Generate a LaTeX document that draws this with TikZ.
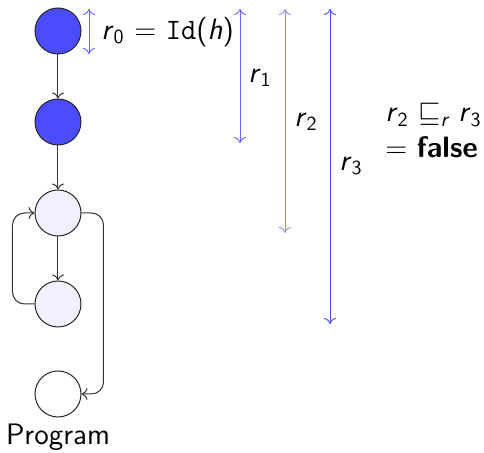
\documentclass[tikz,border=0pt]{standalone}
\usepackage{amsmath,amssymb}
\usetikzlibrary{arrows.meta,calc}
\renewcommand{\familydefault}{\sfdefault}
\newcommand{\vr}[1]{\textsl{r}$_{\mathsf{#1}}$}
\begin{document}
\begin{tikzpicture}[x=0.5pt,y=-0.5pt,
  font=\fontsize{14.8}{17}\selectfont\sffamily,
  st/.style={circle,draw=black!85,line width=0.5pt,minimum size=23pt,inner sep=0pt},
  hot/.style={st,fill=blue!70},
  cold/.style={st,fill=blue!6},
  flow/.style={draw=black!80,line width=0.5pt,-{To[length=3pt,width=6pt]}},
  rng/.style={line width=0.45pt,{To[length=3pt,width=6pt]}-{To[length=3pt,width=6pt]}},
  lab/.style={inner sep=0pt}]
\useasboundingbox (0,0) rectangle (484,453);
\node[hot] (a) at (58,31) {};
\node[hot] (b) at (58,122) {};
\node[cold] (c) at (58,213) {};
\node[cold] (d) at (58,304) {};
\node[st] (e) at (58,394) {};
\node[lab] (prog) at (58,437) {Program};
\draw[flow] (a.south) -- (b.north);
\draw[flow] (b.south) -- (c.north);
\draw[flow] (c.south) -- (d.north);
\draw[flow,rounded corners=6pt] (d.west) -- ++(-22,0) |- (c.west);
\draw[flow,rounded corners=6pt] (c.east) -- ++(22,0) |- (e.east);
\coordinate (t0) at (89,9);   \coordinate (b0) at (89,54);
\coordinate (t1) at (240,9);  \coordinate (b1) at (240,143);
\coordinate (t2) at (285,9);  \coordinate (b2) at (285,233);
\coordinate (t3) at (330,9);  \coordinate (b3) at (330,324);
\draw[rng,blue!60] (t0) -- (b0);
\draw[rng,blue!60] (t1) -- (b1);
\draw[rng,blue!45] (t2) -- (b2);
\draw[rng,blue!70] (t3) -- (b3);
\node[lab,anchor=west] (l0) at (101,32) {\vr{0} $=$ \texttt{Id}(\textsl{h})};
\node[lab] (l1) at (260,78) {\vr{1}};
\node[lab] (l2) at (306,122) {\vr{2}};
\node[lab] (l3) at (351,166) {\vr{3}};
\node[lab,anchor=west] (c1) at (385,115) {\vr{2} $\sqsubseteq_{\textsl{r}}$ \vr{3}};
\node[lab,anchor=west] (c2) at (385,147) {$=$ \textbf{false}};
\end{tikzpicture}
\end{document}
